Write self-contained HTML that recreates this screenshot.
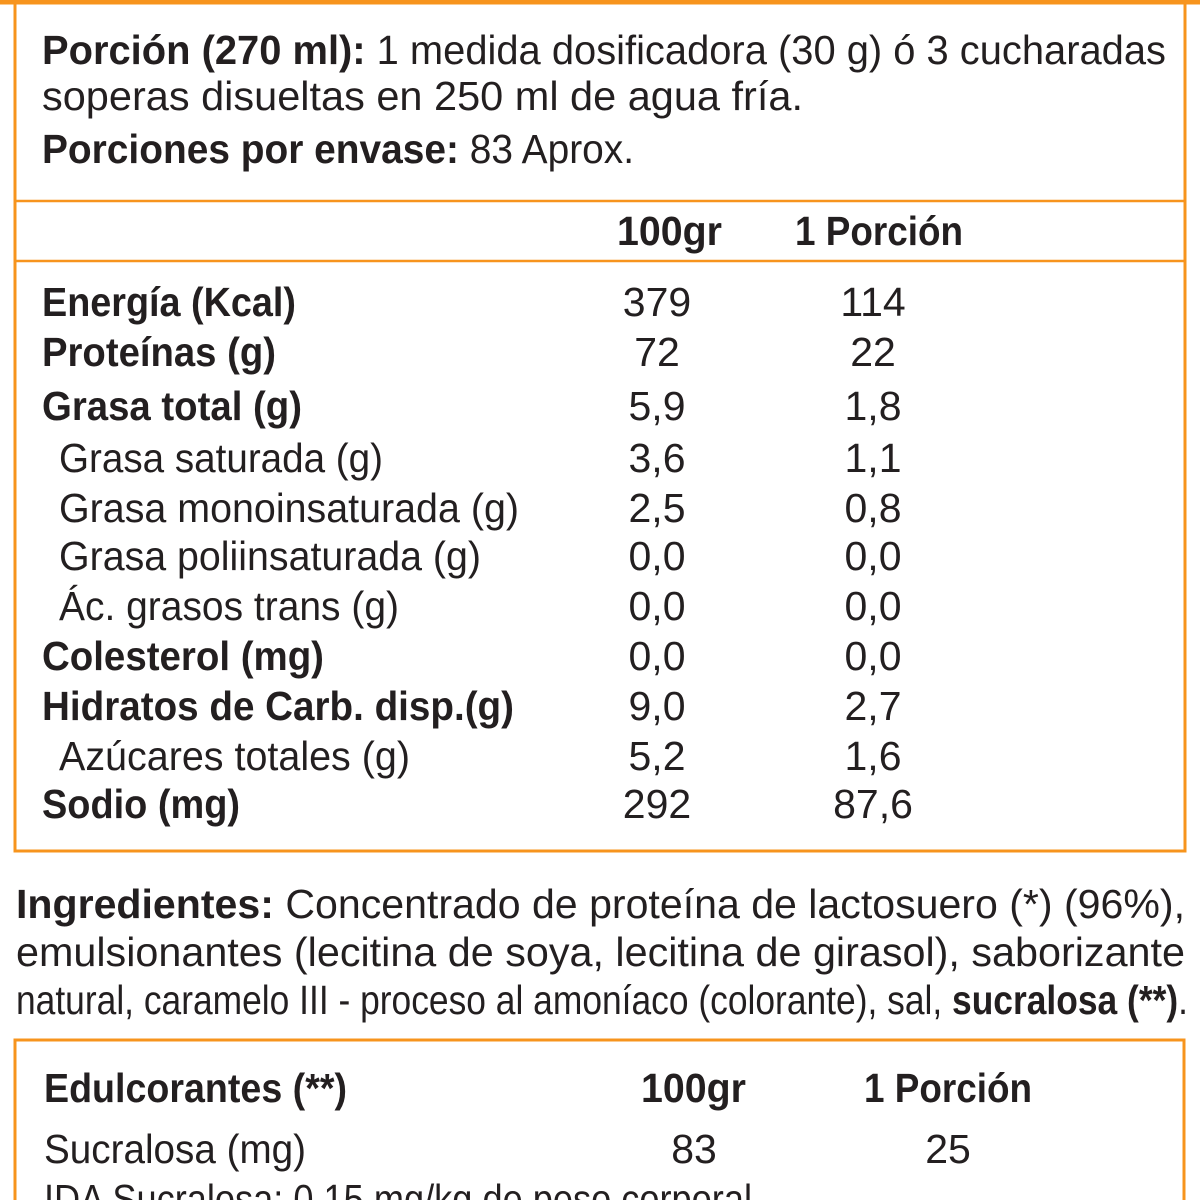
<!DOCTYPE html>
<html><head><meta charset="utf-8"><style>
html,body{margin:0;padding:0;background:#fff;width:1200px;height:1200px;overflow:hidden}
svg{display:block}
text{font-family:"Liberation Sans",sans-serif;fill:#231f20;font-size:41px}
.b{font-weight:bold}
.m{text-anchor:middle}
</style></head><body>
<svg width="1200" height="1200" viewBox="0 0 1200 1200" xmlns="http://www.w3.org/2000/svg">
<rect x="0" y="0" width="1200" height="1200" fill="#fff"/>
<g fill="none" stroke="#f7941d">
<rect x="15" y="2" width="1170" height="849" stroke-width="3"/>
<line x1="0" y1="2" x2="1200" y2="2" stroke-width="5"/>
<line x1="15" y1="201" x2="1185" y2="201" stroke-width="2.5"/>
<line x1="15" y1="261" x2="1185" y2="261" stroke-width="2.5"/>
<rect x="15" y="1040" width="1169" height="200" stroke-width="3"/>
</g>
<text x="42" y="64" textLength="1124" lengthAdjust="spacingAndGlyphs"><tspan class="b">Porción (270 ml):</tspan> 1 medida dosificadora (30 g) ó 3 cucharadas</text>
<text x="42" y="110" textLength="761" lengthAdjust="spacingAndGlyphs">soperas disueltas en 250 ml de agua fría.</text>
<text x="42" y="163" textLength="592" lengthAdjust="spacingAndGlyphs"><tspan class="b">Porciones por envase:</tspan> 83 Aprox.</text>
<text class="b" x="617" y="245" textLength="105" lengthAdjust="spacingAndGlyphs">100gr</text>
<text class="b" x="795" y="245" textLength="168" lengthAdjust="spacingAndGlyphs">1 Porción</text>

<text class="b" x="42" y="316" textLength="254" lengthAdjust="spacingAndGlyphs">Energía (Kcal)</text>
<text class="b" x="42" y="366" textLength="234" lengthAdjust="spacingAndGlyphs">Proteínas (g)</text>
<text class="b" x="42" y="420" textLength="260" lengthAdjust="spacingAndGlyphs">Grasa total (g)</text>
<text x="59" y="472" textLength="324" lengthAdjust="spacingAndGlyphs">Grasa saturada (g)</text>
<text x="59" y="522" textLength="460" lengthAdjust="spacingAndGlyphs">Grasa monoinsaturada (g)</text>
<text x="59" y="570" textLength="422" lengthAdjust="spacingAndGlyphs">Grasa poliinsaturada (g)</text>
<text x="59" y="620" textLength="340" lengthAdjust="spacingAndGlyphs">Ác. grasos trans (g)</text>
<text class="b" x="42" y="670" textLength="282" lengthAdjust="spacingAndGlyphs">Colesterol (mg)</text>
<text class="b" x="42" y="720" textLength="472" lengthAdjust="spacingAndGlyphs">Hidratos de Carb. disp.(g)</text>
<text x="59" y="770" textLength="351" lengthAdjust="spacingAndGlyphs">Azúcares totales (g)</text>
<text class="b" x="42" y="818" textLength="198" lengthAdjust="spacingAndGlyphs">Sodio (mg)</text>

<g>
<text class="m" x="657" y="316">379</text><text class="m" x="873" y="316">114</text>
<text class="m" x="657" y="366">72</text><text class="m" x="873" y="366">22</text>
<text class="m" x="657" y="420">5,9</text><text class="m" x="873" y="420">1,8</text>
<text class="m" x="657" y="472">3,6</text><text class="m" x="873" y="472">1,1</text>
<text class="m" x="657" y="522">2,5</text><text class="m" x="873" y="522">0,8</text>
<text class="m" x="657" y="570">0,0</text><text class="m" x="873" y="570">0,0</text>
<text class="m" x="657" y="620">0,0</text><text class="m" x="873" y="620">0,0</text>
<text class="m" x="657" y="670">0,0</text><text class="m" x="873" y="670">0,0</text>
<text class="m" x="657" y="720">9,0</text><text class="m" x="873" y="720">2,7</text>
<text class="m" x="657" y="770">5,2</text><text class="m" x="873" y="770">1,6</text>
<text class="m" x="657" y="818">292</text><text class="m" x="873" y="818">87,6</text>
</g>

<text x="16" y="918" textLength="1169" lengthAdjust="spacingAndGlyphs"><tspan class="b">Ingredientes:</tspan> Concentrado de proteína de lactosuero (*) (96%),</text>
<text x="16" y="966" textLength="1169" lengthAdjust="spacingAndGlyphs">emulsionantes (lecitina de soya, lecitina de girasol), saborizante</text>
<text x="16" y="1014" textLength="1172" lengthAdjust="spacingAndGlyphs">natural, caramelo III - proceso al amoníaco (colorante), sal, <tspan class="b">sucralosa (**)</tspan>.</text>

<text class="b" x="44" y="1102" textLength="303" lengthAdjust="spacingAndGlyphs">Edulcorantes (**)</text>
<text class="b" x="641" y="1102" textLength="105" lengthAdjust="spacingAndGlyphs">100gr</text>
<text class="b" x="864" y="1102" textLength="168" lengthAdjust="spacingAndGlyphs">1 Porción</text>
<text x="44" y="1163" textLength="262" lengthAdjust="spacingAndGlyphs">Sucralosa (mg)</text>
<text class="m" x="694" y="1163">83</text>
<text class="m" x="948" y="1163">25</text>
<text x="44" y="1213" textLength="708" lengthAdjust="spacingAndGlyphs">IDA Sucralosa: 0,15 mg/kg de peso corporal</text>
</svg>
</body></html>
